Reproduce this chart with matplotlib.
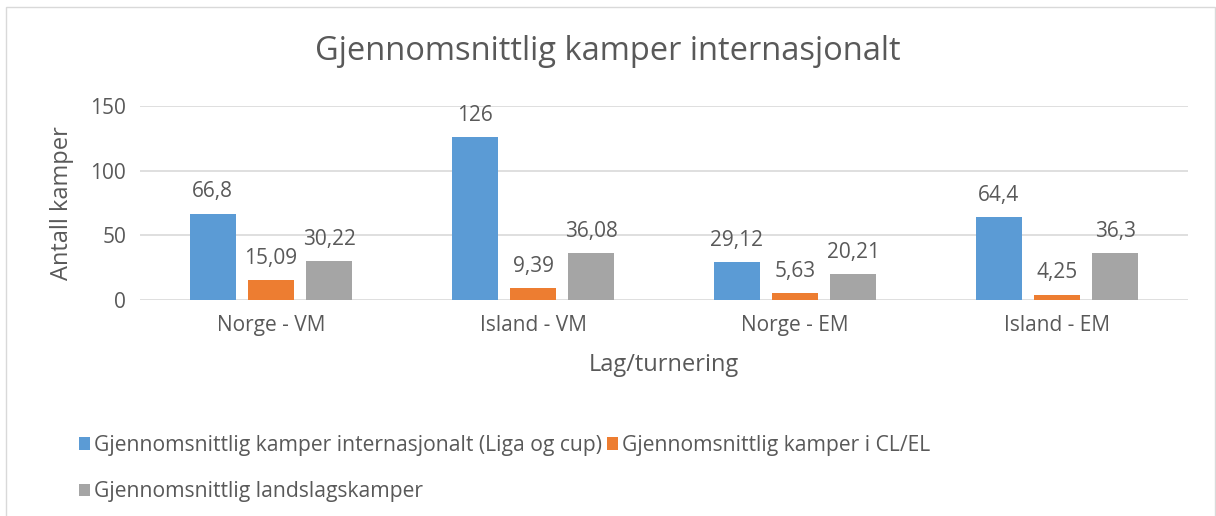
import matplotlib.pyplot as plt
import numpy as np
from matplotlib.patches import Rectangle

plt.rcParams['font.family'] = ['Open Sans', 'DejaVu Sans']

categories = ['Norge - VM', 'Island - VM', 'Norge - EM', 'Island - EM']
liga_cup = [66.8, 126, 29.12, 64.4]
cl_el = [15.09, 9.39, 5.63, 4.25]
landslag = [30.22, 36.08, 20.21, 36.3]
series_names = ['Gjennomsnittlig kamper internasjonalt (Liga og cup)',
                'Gjennomsnittlig kamper i CL/EL',
                'Gjennomsnittlig landslagskamper']
colors = ['#5B9BD5', '#ED7D31', '#A5A5A5']
text_col = '#595959'

fig = plt.figure(figsize=(12.16, 5.16), dpi=100)
fig.add_artist(Rectangle((6 / 1216, -0.1), 1209 / 1216, 1.1 - 7 / 516,
                         transform=fig.transFigure, fill=False,
                         edgecolor='#D9D9D9', linewidth=1))
ax = fig.add_axes([140 / 1216, 1 - 300 / 516, 1048 / 1216, 194 / 516])

x = np.arange(len(categories))
width = 0.176
step = 0.223
handles = []
for i, (vals, name) in enumerate(zip([liga_cup, cl_el, landslag], series_names)):
    bars = ax.bar(x + (i - 1) * step, vals, width, color=colors[i], label=name, zorder=3)
    handles.append(bars)
    ax.bar_label(bars, labels=[f"{v:g}".replace('.', ',') for v in vals],
                 padding=8, fontsize=15, color=text_col)

ax.set_xlim(-0.5, len(categories) - 0.5)
ax.set_ylim(0, 150)
ax.set_yticks([0, 50, 100, 150])
ax.set_xticks(x)
ax.set_xticklabels(categories)
ax.tick_params(axis='both', length=0, labelsize=15, labelcolor=text_col)
ax.tick_params(axis='x', pad=11)
ax.tick_params(axis='y', pad=10)
ax.grid(axis='y', color='#D9D9D9', linewidth=1.2, zorder=0)
for s in ax.spines.values():
    s.set_visible(False)

ax.set_ylabel('Antall kamper', fontsize=17, color=text_col, labelpad=12)
ax.set_xlabel('Lag/turnering', fontsize=17, color=text_col, labelpad=12)

fig.text(608 / 1216, 1 - 52 / 516, 'Gjennomsnittlig kamper internasjonalt',
         ha='center', va='center', fontsize=23.5, color=text_col)

leg = fig.legend([handles[0], handles[2], handles[1]],
                 [series_names[0], series_names[2], series_names[1]],
                 ncol=2, loc='upper left', bbox_to_anchor=(60 / 1216, 1 - 416 / 516),
                 frameon=False, fontsize=15.2, handlelength=0.5, handleheight=0.5,
                 handletextpad=0.2, columnspacing=0.25, labelspacing=1.2)
for t in leg.get_texts():
    t.set_color(text_col)

fig.savefig('out.png', dpi=100)
